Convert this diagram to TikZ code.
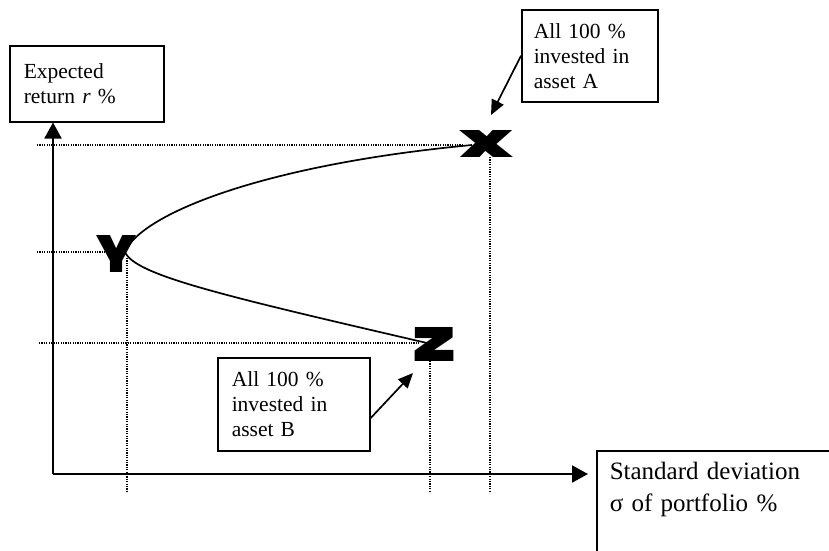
\documentclass[tikz,border=0pt]{standalone}
\usepackage{fontspec}
\setmainfont{Liberation Serif}
\newfontfamily\heavyfont{Poppins}[UprightFont={* Black}]
\usetikzlibrary{arrows.meta}
\tikzset{
  lbox/.style={draw, line width=1.5pt, align=left, anchor=north west,
    font=\fontsize{21.5}{25}\selectfont, inner ysep=0pt},
  axisline/.style={line width=1.9pt, -{Triangle[length=16pt,width=17pt]}},
  callout/.style={line width=1.7pt, -{Triangle[length=15pt,width=13pt]}},
  dotline/.style={line width=1.2pt, dash pattern=on 1.2pt off 1.2pt},
  curveline/.style={line width=1.7pt},
  marker/.style={inner sep=0pt, font=\heavyfont}
}
\begin{document}
\begin{tikzpicture}[x=1pt,y=-1pt]
\useasboundingbox (0,0) rectangle (829,550);
\clip (0,0) rectangle (829,550);
% boxes
\node[lbox, inner xsep=14pt, text width=126pt, minimum height=76pt] (er) at (9,45) {Expected\\return \textit{r} \%};
\node[lbox, inner xsep=12pt, text width=112pt, minimum height=92pt] (ba) at (521,9) {All 100 \%\\invested in\\asset A};
\node[lbox, inner xsep=14pt, text width=124pt, minimum height=93pt] (bb) at (217,357) {All 100 \%\\invested in\\asset B};
\node[draw, line width=1.5pt, align=left, anchor=north west, font=\fontsize{25}{32}\selectfont,
  inner xsep=13pt, inner ysep=11pt, text width=240pt, text depth=90pt] (sd) at (596,450) {Standard deviation\\σ of portfolio \%};
% markers
\node[marker] (mx) at (486,143.5) {\resizebox{54pt}{27pt}{x}};
\node[marker] (my) at (117,253.5) {\resizebox{40pt}{37pt}{Y}};
\node[marker] (mz) at (434,344) {\resizebox{42pt}{34pt}{z}};
% coordinates
\coordinate (o) at (53,474);
\coordinate (cx) at (472,145);
\coordinate (cv) at (125,252);
\coordinate (cz) at (427,343);
\coordinate (hx) at (37,145);
\coordinate (hy) at (37,252);
\coordinate (hz) at (39,343);
\coordinate (ex) at (462,145);
\coordinate (ey) at (110,252);
\coordinate (ez) at (420,343);
\coordinate (vyt) at (127,258);
\coordinate (vyb) at (127,493);
\coordinate (vzt) at (430,361);
\coordinate (vzb) at (430,493);
\coordinate (vxt) at (490,157);
\coordinate (vxb) at (490,493);
\coordinate (ta) at (491,115);
\coordinate (tb) at (413,373);
% dotted guides
\draw[dotline] (hx) -- (ex);
\draw[dotline] (hy) -- (ey);
\draw[dotline] (hz) -- (ez);
\draw[dotline] (vyt) -- (vyb);
\draw[dotline] (vzt) -- (vzb);
\draw[dotline] (vxt) -- (vxb);
% axes
\draw[axisline] (o) -- (o |- er.south);
\draw[axisline] (o) -- ([xshift=-8pt]o -| sd.west);
% frontier
\draw[curveline] (cx) .. controls (260,165) and (140,215) .. (cv)
  .. controls (135,275) and (220,295) .. (cz);
% callouts
\draw[callout] (ba.west) -- (ta);
\draw[callout] ([yshift=-14pt]bb.east) -- (tb);
\end{tikzpicture}
\end{document}
